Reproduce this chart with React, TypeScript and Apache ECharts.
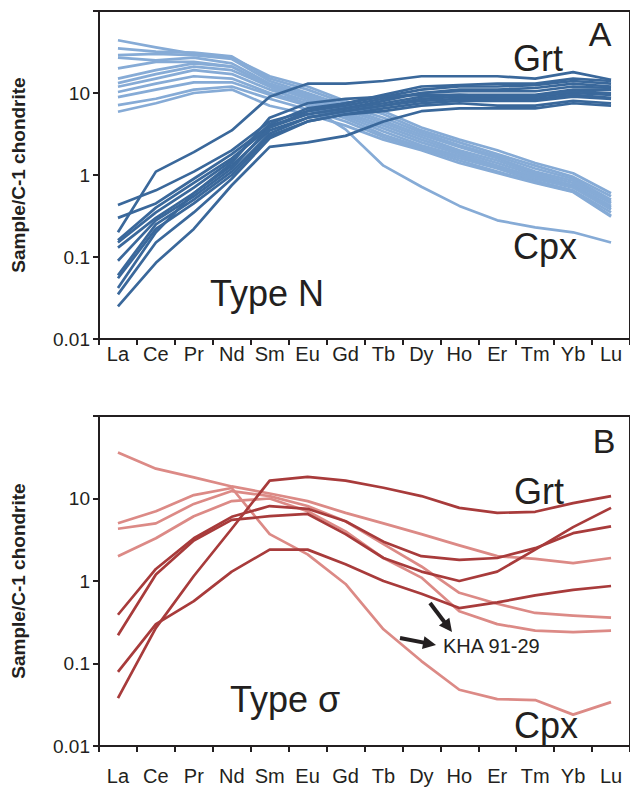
import React, { useEffect, useRef } from "react";
import * as echarts from "echarts";

// Rare earth elements along the x axis
const elements = ["La", "Ce", "Pr", "Nd", "Sm", "Eu", "Gd", "Tb", "Dy", "Ho", "Er", "Tm", "Yb", "Lu"];

// Chondrite-normalised REE patterns, one row per sample (La → Lu)
const typeNCpx: number[][] = [
  [44, 36, 30, 27, 16, 12, 8, 6, 3.8, 2.7, 2.0, 1.4, 1.05, 0.6],
  [35, 32, 31, 28, 15, 11, 7.5, 5.5, 3.5, 2.5, 1.8, 1.3, 0.95, 0.55],
  [29, 30, 29, 26, 14, 10, 7, 5, 3.3, 2.3, 1.7, 1.2, 0.9, 0.5],
  [27, 25, 27, 23, 13, 9.5, 6.6, 4.6, 3.1, 2.2, 1.6, 1.1, 0.85, 0.47],
  [15, 19, 23, 21, 12.5, 9, 6.2, 4.3, 2.9, 2.0, 1.5, 1.05, 0.8, 0.45],
  [13.2, 17, 21, 19, 12, 8.5, 5.8, 4.0, 2.7, 1.9, 1.4, 1.0, 0.75, 0.42],
  [11.9, 15, 19, 17, 11, 8, 5.5, 3.7, 2.5, 1.8, 1.3, 0.95, 0.72, 0.4],
  [10.3, 13, 16, 15, 10, 7.5, 5.2, 3.4, 2.3, 1.7, 1.25, 0.9, 0.7, 0.38],
  [8.9, 11, 13.5, 13.5, 9.5, 7, 4.9, 3.1, 2.2, 1.6, 1.2, 0.85, 0.65, 0.35],
  [7.1, 8.5, 11, 12, 8.5, 6.3, 4.5, 2.9, 2.1, 1.5, 1.1, 0.82, 0.63, 0.32],
  [5.9, 7.5, 10, 11, 7, 5.5, 4.0, 2.7, 2.0, 1.4, 1.06, 0.8, 0.62, 0.31],
  [20, 24, 24, 21, 12, 7, 3.6, 1.3, 0.72, 0.42, 0.28, 0.23, 0.2, 0.15],
];

const typeNGrt: number[][] = [
  [0.43, 0.65, 1.1, 2.0, 4.5, 6, 7.5, 9, 11, 12, 12, 12.5, 14, 13],
  [0.2, 1.1, 1.9, 3.5, 9, 13, 13, 14, 16, 16, 16, 15, 18, 14.5],
  [0.3, 0.45, 0.9, 1.8, 4, 5.5, 6.5, 8, 10, 10.5, 10.5, 10.5, 12, 11.5],
  [0.16, 0.4, 0.8, 1.6, 3.8, 5.5, 6.5, 7.5, 9, 9.5, 9.5, 9.5, 11, 11],
  [0.15, 0.35, 0.7, 1.5, 4.2, 6.5, 7.5, 9.5, 12, 12.5, 13, 13, 15, 14],
  [0.13, 0.3, 0.6, 1.3, 3.5, 5, 6, 7, 8.5, 9, 9, 9, 10, 9.5],
  [0.09, 0.28, 0.55, 1.2, 3.8, 6, 7, 8.5, 10, 11, 11, 11.5, 13, 12],
  [0.06, 0.25, 0.5, 1.1, 3.2, 5, 6, 7, 8, 8.5, 8.5, 8.5, 9.5, 8.7],
  [0.055, 0.22, 0.45, 1.0, 3.0, 4.5, 5.5, 6.5, 7.5, 8, 8, 8, 9, 8.5],
  [0.042, 0.2, 0.6, 1.4, 5, 7.5, 8.5, 9, 9.5, 9.5, 9, 9, 10.5, 10],
  [0.035, 0.15, 0.35, 0.9, 2.8, 4.5, 5.5, 6, 7, 7.5, 7, 7, 8, 7.5],
  [0.025, 0.085, 0.22, 0.75, 2.2, 2.5, 3.0, 4.5, 6, 6.5, 6.5, 6.5, 7.5, 7],
];

const typeSigmaCpx: number[][] = [
  [36, 23, 18, 14, 11.5, 9.3, 6.7, 5.0, 3.7, 2.7, 2.0, 1.85, 1.65, 1.9],
  // KHA 91-29
  [5.0, 7.0, 11, 13.4, 3.7, 2.1, 0.92, 0.26, 0.107, 0.048, 0.037, 0.036, 0.024, 0.034],
  [4.3, 5.0, 8.6, 12.3, 10.7, 8.1, 5.3, 2.8, 1.5, 0.72, 0.53, 0.41, 0.38, 0.36],
  [2.0, 3.3, 6.1, 9.3, 10, 7, 4, 1.9, 1.1, 0.43, 0.3, 0.25, 0.24, 0.25],
];

const typeSigmaGrt: number[][] = [
  [0.038, 0.27, 1.15, 4.3, 16.5, 18.3, 16.5, 13.5, 10.7, 7.7, 6.7, 6.9, 8.8, 10.7],
  [0.39, 1.4, 3.3, 6.0, 8.1, 7.5, 5.3, 3.0, 2.0, 1.8, 1.9, 2.5, 3.8, 4.6],
  [0.22, 1.2, 3.1, 5.5, 6.1, 6.5, 3.7, 1.9, 1.3, 1.0, 1.3, 2.4, 4.5, 7.7],
  [0.079, 0.3, 0.57, 1.3, 2.4, 2.4, 1.6, 1.0, 0.7, 0.47, 0.55, 0.67, 0.78, 0.87],
];

const FONT = "Liberation Sans, Arial, sans-serif";
const INK = "#231f20";

const CPX_BLUE = "#86abd6";
const GRT_BLUE = "#3a689b";
const CPX_RED = "#dc8a86";
const GRT_RED = "#a83b3b";

function lineSeries(group: number[][], color: string, axis: number) {
  return group.map((values) => ({
    type: "line",
    xAxisIndex: axis,
    yAxisIndex: axis,
    data: values,
    symbol: "none",
    silent: true,
    lineStyle: { color, width: 2.7, join: "round" },
  }));
}

function xAxisFor(gridIndex: number, labelMargin: number) {
  return {
    type: "category",
    gridIndex,
    data: elements,
    boundaryGap: true,
    axisLine: { lineStyle: { color: INK, width: 2 } },
    axisTick: { show: true, length: 6, lineStyle: { color: INK, width: 2 } },
    axisLabel: { color: INK, fontSize: 20, fontFamily: FONT, margin: labelMargin, interval: 0 },
    splitLine: { show: false },
  };
}

function yAxisFor(gridIndex: number) {
  return {
    type: "log",
    gridIndex,
    logBase: 10,
    min: 0.01,
    max: 100,
    name: "Sample/C-1 chondrite",
    nameLocation: "middle",
    nameGap: 71,
    nameTextStyle: { color: INK, fontSize: 19, fontWeight: "bold", fontFamily: FONT },
    axisLine: { show: true, lineStyle: { color: INK, width: 2 } },
    axisTick: { show: true, length: 6, lineStyle: { color: INK, width: 2 } },
    axisLabel: {
      color: INK,
      fontSize: 19,
      fontFamily: FONT,
      margin: 9,
      formatter: (v: number) => (v >= 100 ? "" : String(+v.toPrecision(2))),
    },
    splitLine: { show: false },
  };
}

function label(text: string, x: number, y: number, size: number, align = "left") {
  return {
    type: "text",
    x,
    y,
    silent: true,
    style: {
      text,
      fill: INK,
      font: `${size}px ${FONT}`,
      textAlign: align,
      textVerticalAlign: "middle",
    },
  };
}

function arrow(x1: number, y1: number, x2: number, y2: number) {
  const dx = x2 - x1;
  const dy = y2 - y1;
  const len = Math.hypot(dx, dy);
  const ux = dx / len;
  const uy = dy / len;
  const head = 13;
  const half = 6.5;
  const bx = x2 - ux * head;
  const by = y2 - uy * head;
  return {
    type: "group",
    silent: true,
    children: [
      {
        type: "line",
        shape: { x1, y1, x2: bx + ux * 2, y2: by + uy * 2 },
        style: { stroke: INK, lineWidth: 4 },
      },
      {
        type: "polygon",
        shape: {
          points: [
            [x2, y2],
            [bx - uy * half, by + ux * half],
            [bx + uy * half, by - ux * half],
          ],
        },
        style: { fill: INK },
      },
    ],
  };
}

export default function App() {
  const ref = useRef<HTMLDivElement>(null);

  useEffect(() => {
    if (!ref.current) return;
    const chart = echarts.init(ref.current, null, { renderer: "svg" });
    chart.setOption({
      animation: false,
      backgroundColor: "#ffffff",
      grid: [
        { left: 99, top: 11, width: 538, height: 328, show: true, borderColor: INK, borderWidth: 2 },
        { left: 99, top: 416, width: 538, height: 330, show: true, borderColor: INK, borderWidth: 2 },
      ],
      xAxis: [xAxisFor(0, 5), xAxisFor(1, 20)],
      yAxis: [yAxisFor(0), yAxisFor(1)],
      series: [
        ...lineSeries(typeNCpx, CPX_BLUE, 0),
        ...lineSeries(typeNGrt, GRT_BLUE, 0),
        ...lineSeries(typeSigmaCpx, CPX_RED, 1),
        ...lineSeries(typeSigmaGrt, GRT_RED, 1),
      ],
      graphic: [
        label("A", 600, 34, 34, "center"),
        label("Grt", 513, 58, 36),
        label("Cpx", 513, 246, 36),
        label("Type N", 210, 293, 36),
        label("B", 604, 441, 34, "center"),
        label("Grt", 514, 491, 36),
        label("Type σ", 230, 699, 36),
        label("Cpx", 514, 725, 36),
        label("KHA 91-29", 443, 646, 20),
        arrow(430, 603, 452, 632),
        arrow(400, 638, 436, 645),
      ],
    });
    return () => chart.dispose();
  }, []);

  return (
    <div
      ref={ref}
      style={{ position: "absolute", left: 0, top: 0, width: 630, height: 789, background: "#fff" }}
    />
  );
}
